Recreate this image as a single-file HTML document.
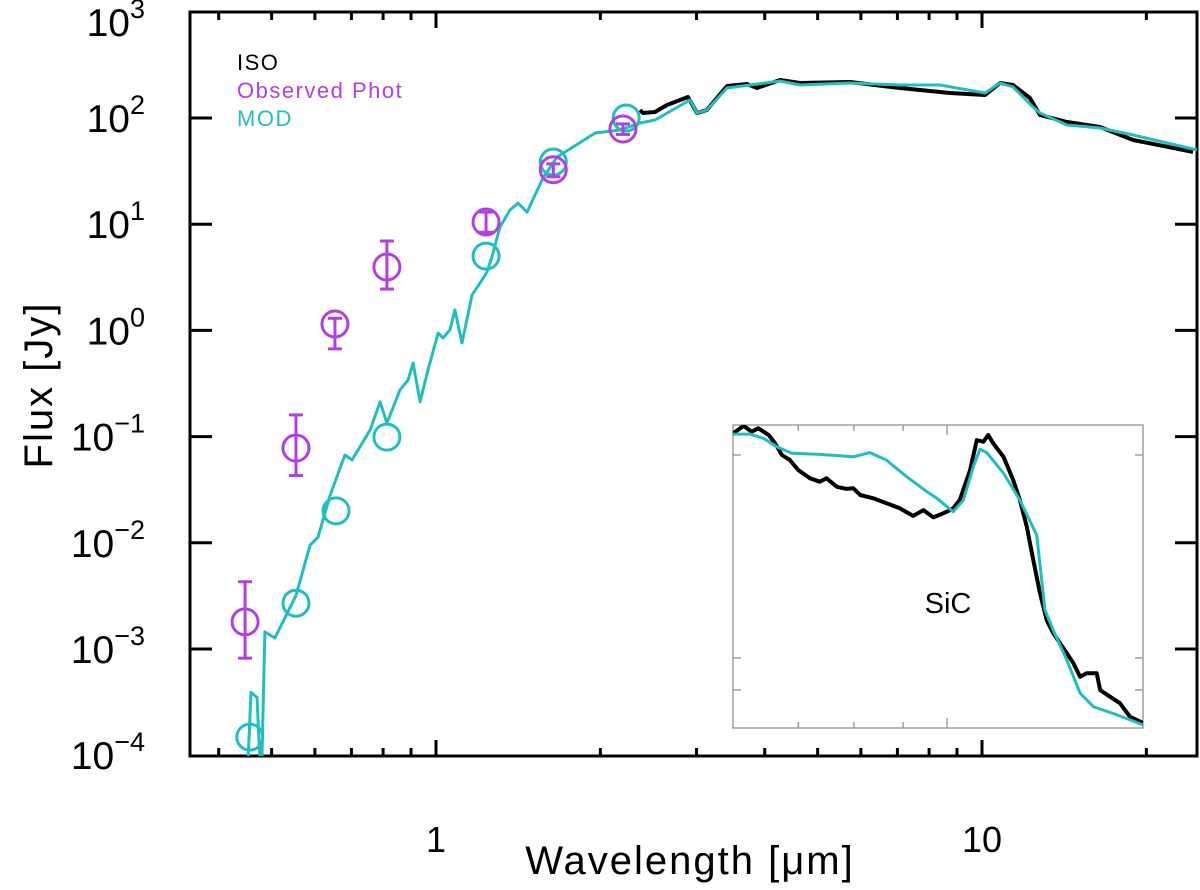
<!DOCTYPE html>
<html><head><meta charset="utf-8"><style>
html,body{margin:0;padding:0;background:#fff;}
svg{display:block;font-family:"Liberation Sans",sans-serif;}
</style></head><body>
<svg id="chart" width="1200" height="890" viewBox="0 0 1200 890">
<defs><clipPath id="plotclip"><rect x="190" y="12" width="1007" height="744"/></clipPath>
<clipPath id="insetclip"><rect x="733" y="425" width="410" height="303"/></clipPath></defs>
<g id="axes"></g>
<g id="series" clip-path="url(#plotclip)"></g>
<g id="inset"></g>
<g id="labels"></g>
</svg>
<script>
// ---- main plot data ----
const modLam = [0.4525,0.4583,0.470,0.476,0.480,0.486,0.507,0.554,0.588,0.608,0.640,0.681,0.702,0.757,0.790,0.813,0.859,0.889,0.908,0.935,0.967,1.009,1.030,1.061,1.083,1.116,1.164,1.204,1.240,1.266,1.310,1.366,1.413,1.468,1.570,1.666,1.782,1.956,2.173,2.364,2.518,2.919,3.006,3.135,3.412,3.759,4.266,4.642,5.731,7.075,8.377,10.13,10.79,11.40,12.40,12.77,14.31,16.45,18.91,24.77];
const modFlux = [8.6e-5,3.9e-4,3.5e-4,8.6e-5,1.0e-4,1.45e-3,1.27e-3,3.2e-3,9.5e-3,0.0113,0.0282,0.0671,0.0603,0.115,0.212,0.134,0.275,0.341,0.493,0.212,0.424,0.946,0.848,1.01,1.56,0.761,2.15,2.79,3.55,4.91,9.41,13.6,15.8,13.0,27.2,42.9,53.3,72.2,77.1,89.7,95.7,147.6,111.4,118.9,191.5,204.6,223,204.6,213.8,204.6,204.6,171.8,213.8,195.8,126.9,111.4,85.9,80.5,69.2,50.0];
const isoLam = [2.364,2.394,2.518,2.649,2.894,3.006,3.135,3.412,3.712,3.872,4.266,4.642,5.731,7.075,8.738,10.13,10.79,11.40,12.24,12.77,14.31,16.45,18.91,24.35];
const isoFlux = [118.9,111.4,113.8,132.5,157.7,111.4,118.9,200,208.9,191.5,228,213.8,218.3,191.5,171.8,164.8,213.8,204.6,154.2,106.7,91.6,82.2,62.1,47.9];
const obsLam = [0.447,0.554,0.653,0.813,1.235,1.64,2.2];
const obsFlux = [1.8e-3,0.078,1.15,3.95,10.5,32.6,78.8];
const obsHi = [4.3e-3,0.16,1.3,6.95,13,37,88];
const obsLo = [8.2e-4,0.043,0.67,2.45,8.4,28,70];
const modPhotLam = [0.456,0.554,0.656,0.813,1.235,1.64,2.23];
const modPhotFlux = [1.48e-4,2.7e-3,0.02,0.099,5.0,38.5,100];
const xTickLabels = ["1","10"];
const yTickExps = [-4,-3,-2,-1,0,1,2,3];
// ---- inset data ----
const inIsoLam = [5.99,6.14,6.26,6.36,6.52,6.62,6.73,6.86,7.00,7.20,7.37,7.49,7.68,7.86,7.99,8.12,8.38,8.65,8.93,9.22,9.45,9.68,10.0,10.15,10.31,10.57,10.74,10.91,11.04,11.17,11.45,11.72,11.91,12.11,12.30,12.50,12.70,12.90,13.33,13.54,13.76,13.98,14.32,14.44,14.79,15.14,15.51,16.02];
const inIsoVal = [0.973,0.997,0.978,0.989,0.967,0.940,0.901,0.884,0.851,0.824,0.813,0.824,0.796,0.789,0.791,0.769,0.758,0.742,0.725,0.700,0.719,0.695,0.714,0.725,0.752,0.851,0.950,0.945,0.967,0.940,0.895,0.818,0.752,0.664,0.554,0.445,0.356,0.313,0.247,0.214,0.169,0.181,0.181,0.125,0.103,0.082,0.037,0.016];
const inModLam = [5.99,6.23,6.44,6.65,6.89,7.37,7.99,8.31,8.65,9.08,9.53,9.76,10.15,10.40,10.65,10.82,11.00,11.45,11.91,12.40,12.65,12.90,13.33,13.76,14.21,14.90,16.02];
const inModVal = [0.970,0.970,0.956,0.928,0.907,0.903,0.895,0.909,0.884,0.829,0.780,0.758,0.714,0.752,0.862,0.920,0.909,0.841,0.752,0.637,0.389,0.323,0.224,0.115,0.070,0.048,0.010];

const NS="http://www.w3.org/2000/svg";
const X = l => 436 + 546*Math.log10(l);
const Y = f => 118 - 106.2*(Math.log10(f)-2);
const IX = l => 947 + 960*Math.log10(l/10);
const IY = v => 728 - 303*v;
function mk(tag, attrs, parent){const e=document.createElementNS(NS,tag);for(const k in attrs)e.setAttribute(k,attrs[k]);parent.appendChild(e);return e;}
const axes=document.getElementById('axes'), series=document.getElementById('series'), inset=document.getElementById('inset'), labels=document.getElementById('labels');

let fr=mk('rect',{x:190,y:12,width:1007,height:744,fill:'none',stroke:'#000','stroke-width':3},axes);


const minors=[0.4,0.5,0.6,0.7,0.8,0.9,2,3,4,5,6,7,8,9,20];
minors.forEach(v=>{const x=X(v);
 let t=mk('line',{x1:x,x2:x,y1:756,y2:748,stroke:'#000','stroke-width':3},axes);
 
 
 let t2=mk('line',{x1:x,x2:x,y1:12,y2:20,stroke:'#000','stroke-width':3},axes);
 
 });
[1,10].forEach((v,i)=>{const x=X(v);
 let t=mk('line',{x1:x,x2:x,y1:756,y2:740,stroke:'#000','stroke-width':3},axes);
 
 
 let t2=mk('line',{x1:x,x2:x,y1:12,y2:28,stroke:'#000','stroke-width':3},axes);
 
 
 let tx=mk('text',{x:x,y:852,'text-anchor':'middle','font-size':36,fill:'#000'},labels);
 tx.textContent=xTickLabels[i];
 
 });
yTickExps.forEach(e=>{const y=Y(Math.pow(10,e));
 if(e>-4&&e<3){
 let t=mk('line',{x1:190,x2:212,y1:y,y2:y,stroke:'#000','stroke-width':3},axes);
 
 
 let t2=mk('line',{x1:1197,x2:1175,y1:y,y2:y,stroke:'#000','stroke-width':3},axes);
 
 }
 const by=Math.max(y+14,36);
 let tx=mk('text',{x:145,y:by,'text-anchor':'end','font-size':39,fill:'#000'},labels);
 tx.textContent='10';
 const sp=document.createElementNS(NS,'tspan');sp.setAttribute('dy','-18');sp.setAttribute('font-size','27');sp.textContent=(e<0?'\u2212'+(-e):String(e));tx.appendChild(sp);
 
 });
let xt=mk('text',{x:690,y:874,'text-anchor':'middle','font-size':40,fill:'#000','letter-spacing':'2'},labels);
xt.textContent='Wavelength [\u03bcm]';


let yt=mk('text',{x:0,y:0,'text-anchor':'middle','font-size':40,fill:'#000','letter-spacing':'2',transform:'translate(52,385) rotate(-90)'},labels);
yt.textContent='Flux [Jy]';


[['ISO','#000','legend-iso'],['Observed Phot','#b040e6','legend-observed-phot'],['MOD','#1fbfbf','legend-mod']].forEach((d,i)=>{
 let t=mk('text',{x:237,y:70+i*28,'font-size':22,fill:d[1],'letter-spacing':'1.5'},labels);
 t.textContent=d[0];
 
 });

function pathFrom(lx,ly,fx,fy){return lx.map((l,i)=>(i?'L':'M')+fx(l).toFixed(1)+' '+fy(ly[i]).toFixed(1)).join(' ');}
let iso=mk('path',{d:pathFrom(isoLam,isoFlux,X,Y),fill:'none',stroke:'#000','stroke-width':4,'stroke-linejoin':'round'},series);


let mod=mk('path',{d:pathFrom(modLam,modFlux,X,Y),fill:'none',stroke:'#1fbfbf','stroke-width':3,'stroke-linejoin':'round'},series);


modPhotLam.forEach((l,i)=>{
 let c=mk('circle',{cx:X(l),cy:Y(modPhotFlux[i]),r:13,fill:'none',stroke:'#1fbfbf','stroke-width':3},series);
 
 });
obsLam.forEach((l,i)=>{const x=X(l);
 let g=mk('g',{stroke:'#b040e6','stroke-width':3,fill:'none'},series);
 
 
 mk('circle',{cx:x,cy:Y(obsFlux[i]),r:13},g);
 mk('line',{x1:x,x2:x,y1:Y(obsHi[i]),y2:Y(obsLo[i])},g);
 mk('line',{x1:x-7,x2:x+7,y1:Y(obsHi[i]),y2:Y(obsHi[i])},g);
 mk('line',{x1:x-7,x2:x+7,y1:Y(obsLo[i]),y2:Y(obsLo[i])},g);});

let ib=mk('rect',{x:733,y:425,width:410,height:303,fill:'#fff',stroke:'#888','stroke-width':1.2},inset);


[7,8,9,10].forEach(v=>{const x=IX(v);const len=v===10?10:6;
 let t=mk('line',{x1:x,x2:x,y1:728,y2:728-len,stroke:'#888','stroke-width':1.2},inset);
 
 
 let t2=mk('line',{x1:x,x2:x,y1:425,y2:425+len,stroke:'#888','stroke-width':1.2},inset);
 
 });
[455,658,690].forEach(y=>{
 let t=mk('line',{x1:733,x2:741,y1:y,y2:y,stroke:'#888','stroke-width':1.2},inset);
 
 
 let t2=mk('line',{x1:1143,x2:1135,y1:y,y2:y,stroke:'#888','stroke-width':1.2},inset);
 
 });
let ig=mk('g',{'clip-path':'url(#insetclip)'},inset);
let ii=mk('path',{d:pathFrom(inIsoLam,inIsoVal,IX,IY),fill:'none',stroke:'#000','stroke-width':4,'stroke-linejoin':'round'},ig);


let im=mk('path',{d:pathFrom(inModLam,inModVal,IX,IY),fill:'none',stroke:'#1fbfbf','stroke-width':3,'stroke-linejoin':'round'},ig);


let sic=mk('text',{x:948,y:613,'text-anchor':'middle','font-size':29,fill:'#000'},inset);
sic.textContent='SiC';


</script>
</body></html>
